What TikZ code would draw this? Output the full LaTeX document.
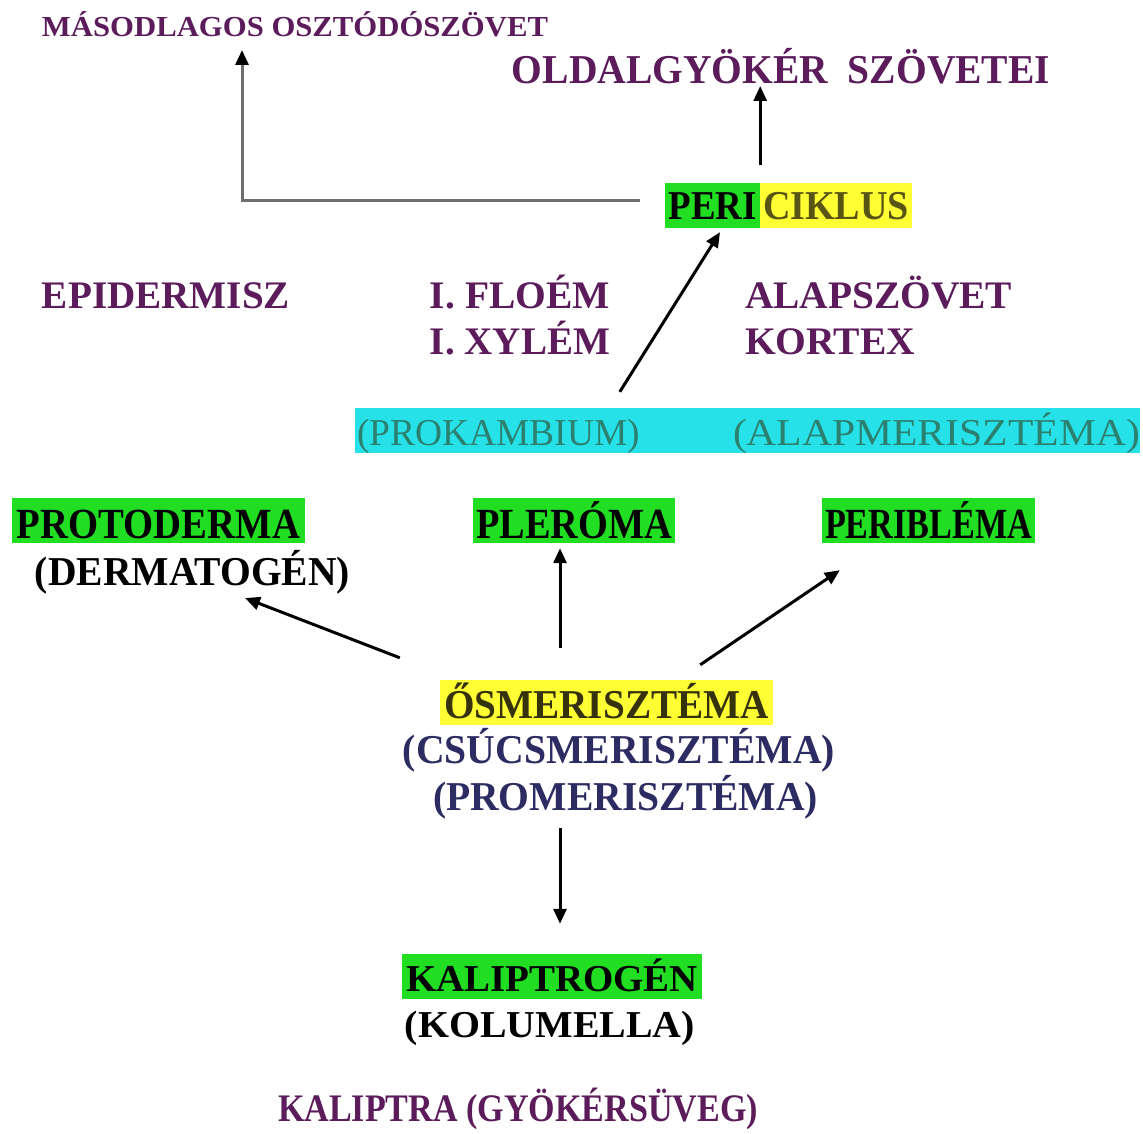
\documentclass[tikz,border=0pt]{standalone}
\usepackage{fontspec}
\setmainfont{Liberation Serif}
\usepackage{graphicx}
\usetikzlibrary{arrows.meta,calc}
\definecolor{purp}{RGB}{92,28,92}
\definecolor{hlgreen}{RGB}{34,222,34}
\definecolor{hlyellow}{RGB}{255,255,51}
\definecolor{barcyan}{RGB}{38,226,232}
\definecolor{tealtxt}{RGB}{44,128,112}
\definecolor{navytxt}{RGB}{44,44,98}
\definecolor{olivetxt}{RGB}{88,84,20}
\definecolor{linegray}{RGB}{110,110,110}
\newcommand\fitw[2]{\resizebox{#1}{\height}{#2}}
\newcommand\fs[1]{\fontsize{#1}{#1}\selectfont}
\begin{document}
\begin{tikzpicture}[x=1pt,y=-1pt,
  txt/.style={inner sep=0pt, anchor=base},
  box/.style={inner sep=0pt, anchor=base},
  arr/.style={-{Triangle[length=15pt,width=13pt]}, line width=3pt},
  grayarr/.style={draw=linegray, -{Triangle[length=15pt,width=13pt,color=black]}, line width=3pt}]
\fill[white] (0,0) rectangle (1143,1134);
\useasboundingbox (0,0) rectangle (1143,1134);

% top
\node[txt, text=purp, font=\bfseries\fs{29}] (masod) at (295,37) {\fitw{506pt}{MÁSODLAGOS OSZTÓDÓSZÖVET}};
\node[txt, text=purp, font=\bfseries\fs{41}] (oldal) at (781,84) {\fitw{538pt}{OLDALGYÖKÉR\hspace{0.5em}SZÖVETEI}};

\node[box, fill=hlgreen, minimum width=95pt, text height=37pt, text depth=8pt, font=\bfseries\fs{41}] (peri) at (712.5,220) {\fitw{88pt}{PERI}};
\node[box, fill=hlyellow, minimum width=152pt, text height=37pt, text depth=8pt, text=olivetxt, font=\bfseries\fs{41}] (ciklus) at (836,220) {\fitw{146pt}{CIKLUS}};

% tissues
\node[txt, text=purp, font=\bfseries\fs{39}] (epid) at (166,308) {\fitw{248pt}{EPIDERMISZ}};
\node[txt, text=purp, font=\bfseries\fs{39}] (floem) at (520,308) {\fitw{180pt}{I. FLOÉM}};
\node[txt, text=purp, font=\bfseries\fs{39}] (xylem) at (520,354) {\fitw{180pt}{I. XYLÉM}};
\node[txt, text=purp, font=\bfseries\fs{39}] (alap) at (878.5,308) {\fitw{267pt}{ALAPSZÖVET}};
\node[txt, text=purp, font=\bfseries\fs{39}] (kortex) at (830,354) {\fitw{170pt}{KORTEX}};

% cyan bar
\node[fill=barcyan, inner sep=0pt, minimum width=785pt, minimum height=45pt] (bar) at (747.5,430.5) {};
\node[txt, text=tealtxt, font=\fs{38}] (prokamb) at (498.5,445) {\fitw{283pt}{(PROKAMBIUM)}};
\node[txt, text=tealtxt, font=\fs{38}] (alapm) at (936.5,445) {\fitw{407pt}{(ALAPMERISZTÉMA)}};

% histogen layers
\node[box, fill=hlgreen, minimum width=293pt, text height=40pt, text depth=5pt, font=\bfseries\fs{43}] (proto) at (158.5,538) {\fitw{283pt}{PROTODERMA}};
\node[txt, font=\bfseries\fs{41}] (derm) at (192.5,585) {\fitw{315pt}{(DERMATOGÉN)}};
\node[box, fill=hlgreen, minimum width=202pt, text height=40pt, text depth=5pt, font=\bfseries\fs{43}] (pler) at (574,538) {\fitw{196pt}{PLERÓMA}};
\node[box, fill=hlgreen, minimum width=213pt, text height=40pt, text depth=5pt, font=\bfseries\fs{43}] (perib) at (928.5,538) {\fitw{207pt}{PERIBLÉMA}};

% apical meristem
\node[box, fill=hlyellow, minimum width=333pt, text height=38pt, text depth=7pt, text=olivetxt!60!black, font=\bfseries\fs{41}] (osm) at (606.5,718) {\fitw{325pt}{ŐSMERISZTÉMA}};
\node[txt, text=navytxt, font=\bfseries\fs{41}] (csucs) at (619,763) {\fitw{432pt}{(CSÚCSMERISZTÉMA)}};
\node[txt, text=navytxt, font=\bfseries\fs{41}] (prom) at (625.5,810) {\fitw{385pt}{(PROMERISZTÉMA)}};

% root cap
\node[box, fill=hlgreen, minimum width=300pt, text height=37pt, text depth=8pt, font=\bfseries\fs{38}] (kalg) at (552,991) {\fitw{292pt}{KALIPTROGÉN}};
\node[txt, font=\bfseries\fs{38}] (kolum) at (550,1037) {\fitw{290pt}{(KOLUMELLA)}};
\node[txt, text=purp, font=\bfseries\fs{39}] (kalip) at (518,1121) {\fitw{480pt}{KALIPTRA (GYÖKÉRSÜVEG)}};

% connectors
\draw[arr] ($(peri.north east)+(0,-18)$) -- ($(peri.north east |- oldal.base)+(0,2)$);
\draw[grayarr] ($(peri.west)+(-25,-5)$) -| ($(masod.base)+(-53,13)$);
\draw[arr] ($(bar.north west)+(265,-16)$) -- ($(peri.south)+(7.5,4)$);
\draw[arr] ($(osm.north west)+(-40,-22)$) -- ($(derm.base)+(52.5,13)$);
\draw[arr] ($(osm.north)+(-46.5,-32)$) -- ($(pler.south)+(-14,5)$);
\draw[arr] ($(osm.north east)+(-73,-15)$) -- ($(perib.south west)+(18,27)$);
\draw[arr] ($(prom.base)+(-65.5,18)$) -- ($(kalg.north)+(8,-30)$);
\end{tikzpicture}
\end{document}
